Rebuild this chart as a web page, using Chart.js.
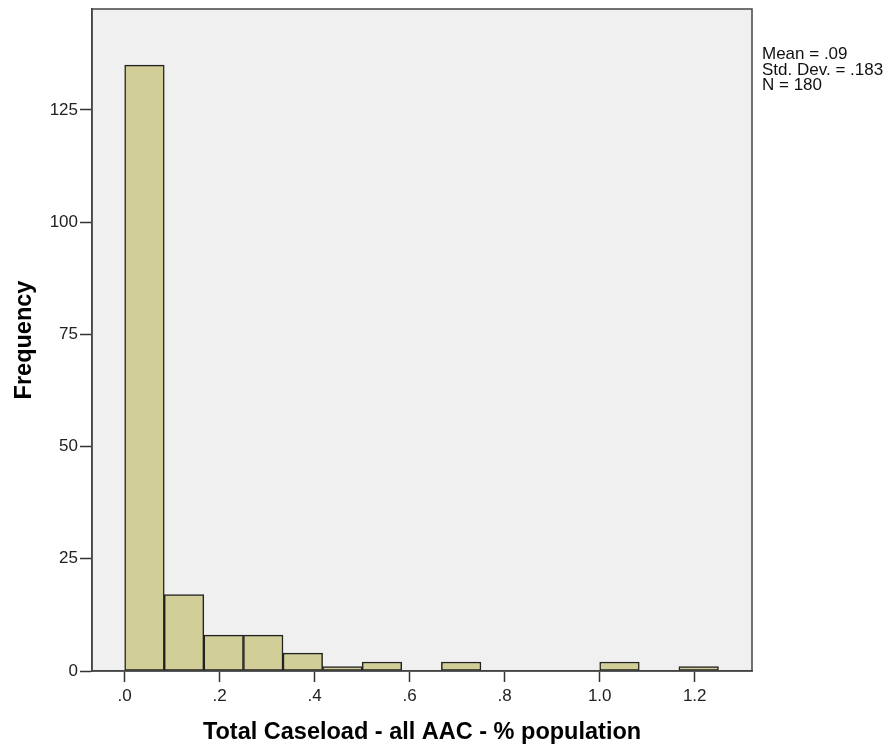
<!DOCTYPE html>
<html>
<head>
<meta charset="utf-8">
<script src="https://cdn.jsdelivr.net/npm/chart.js@4.4.0/dist/chart.umd.min.js"></script>
<style>
    html, body { margin: 0; padding: 0; background: #fff; }
    #wrap { width: 893px; height: 753px; }
</style>
</head>
<body>
<div id="wrap"><canvas id="myChart" width="893" height="753"></canvas></div>
<script>
// histogram bins (lower/upper edges) and frequencies
var binEdges = [0, 0.0833, 0.1667, 0.25, 0.3333, 0.4167, 0.5, 0.5833, 0.6667, 0.75, 0.8333, 0.9167, 1.0, 1.0833, 1.1667, 1.25];
var counts = [135, 17, 8, 8, 4, 1, 2, 0, 2, 0, 0, 0, 2, 0, 1];

var yTickValues = [0, 25, 50, 75, 100, 125];
var xTickValues = [0, 0.2, 0.4, 0.6, 0.8, 1.0, 1.2];
var xTickLabels = ['.0', '.2', '.4', '.6', '.8', '1.0', '1.2'];

var statsLines = ['Mean = .09', 'Std. Dev. = .183', 'N = 180'];

var fontFamily = '"Liberation Sans", Arial, sans-serif';

var barData = [];
for (var i = 0; i < counts.length; i++) {
    barData.push({x: (binEdges[i] + binEdges[i + 1]) / 2, y: counts[i] > 0 ? counts[i] : null});
}

// grey plot background
var plotBackground = {
    id: 'plotBackground',
    beforeDraw: function(chart) {
        var a = chart.chartArea, ctx = chart.ctx;
        ctx.save();
        ctx.fillStyle = '#f0f0f0';
        ctx.fillRect(a.left, a.top, a.right - a.left, a.bottom - a.top);
        ctx.restore();
    }
};

// frame round the plot + stats box text
var plotFrame = {
    id: 'plotFrame',
    afterDraw: function(chart) {
        var a = chart.chartArea, ctx = chart.ctx;
        ctx.save();
        ctx.strokeStyle = '#444';
        ctx.lineWidth = 1.5;
        ctx.strokeRect(a.left, a.top, a.right - a.left, a.bottom - a.top);
        ctx.fillStyle = '#111';
        ctx.font = '17px ' + fontFamily;
        ctx.textAlign = 'left';
        ctx.textBaseline = 'alphabetic';
        for (var k = 0; k < statsLines.length; k++) {
            ctx.fillText(statsLines[k], a.right + 10, 59 + k * 15.5);
        }
        ctx.restore();
    }
};

var ctx = document.getElementById('myChart').getContext('2d');
var chart = new Chart(ctx, {
    type: 'bar',
    data: {
        datasets: [{
            label: 'Frequency',
            data: barData,
            backgroundColor: '#d2ce98',
            borderColor: '#222',
            borderWidth: 1.5,
            borderSkipped: false,
            barPercentage: 1,
            categoryPercentage: 1
        }]
    },
    options: {
        responsive: false,
        animation: false,
        devicePixelRatio: 1,
        layout: {padding: {top: 9, right: 141, bottom: 0, left: 0}},
        plugins: {legend: {display: false}, tooltip: {enabled: false}},
        scales: {
            x: {
                type: 'linear',
                min: -0.0688,
                max: 1.3206,
                offset: false,
                afterBuildTicks: function(s) { s.ticks = xTickValues.map(function(v) { return {value: v}; }); },
                ticks: {
                    autoSkip: false,
                    maxRotation: 0,
                    padding: 4,
                    color: '#222',
                    font: {family: fontFamily, size: 17},
                    callback: function(v, idx) { return xTickLabels[idx]; }
                },
                grid: {drawOnChartArea: false, offset: false, tickLength: 11, tickColor: '#333', tickWidth: 1.5},
                border: {display: true, color: '#444', width: 1.5},
                title: {
                    display: true,
                    text: 'Total Caseload - all AAC - % population',
                    color: '#000',
                    font: {family: fontFamily, size: 23.5, weight: 'bold'},
                    padding: {top: 0, bottom: 6}
                },
                afterFit: function(s) { s.height = 82; s.paddingLeft = 0; s.paddingRight = 0; }
            },
            y: {
                min: 0,
                max: 147.5,
                afterBuildTicks: function(s) { s.ticks = yTickValues.map(function(v) { return {value: v}; }); },
                ticks: {
                    padding: 2,
                    color: '#222',
                    font: {family: fontFamily, size: 17},
                    callback: function(v) { return String(v); }
                },
                grid: {drawOnChartArea: false, tickLength: 12, tickColor: '#333', tickWidth: 1.5},
                border: {display: true, color: '#444', width: 1.5},
                title: {
                    display: true,
                    text: 'Frequency',
                    color: '#000',
                    font: {family: fontFamily, size: 23.5, weight: 'bold'},
                    padding: {top: 10, bottom: 0}
                },
                afterFit: function(s) { s.width = 92; s.paddingTop = 0; s.paddingBottom = 0; }
            }
        }
    },
    plugins: [plotBackground, plotFrame]
});
</script>
</body>
</html>
